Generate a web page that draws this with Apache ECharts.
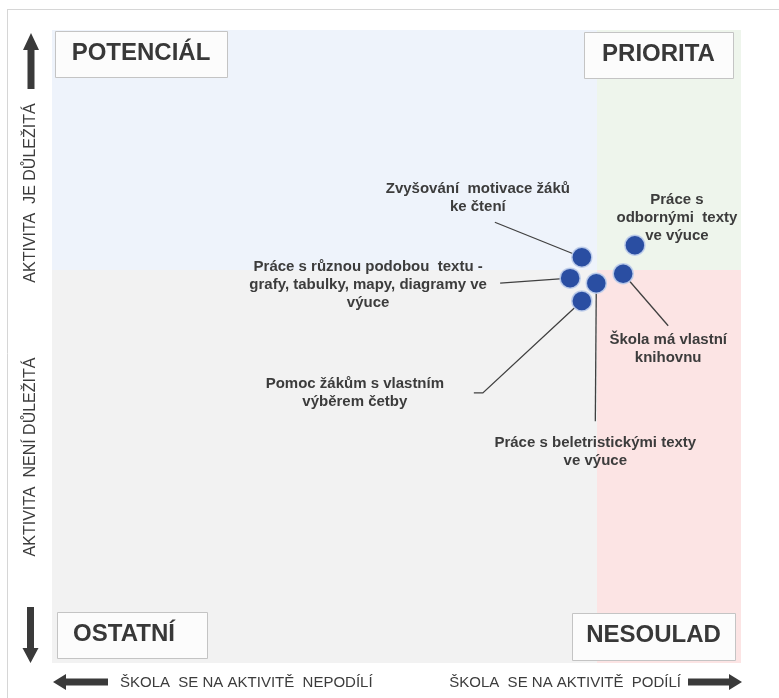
<!DOCTYPE html>
<html>
<head>
<meta charset="utf-8">
<title>Matice aktivit</title>
<script src="https://cdn.jsdelivr.net/npm/echarts@6/dist/echarts.min.js"></script>
<style>
  html, body { margin: 0; padding: 0; background: #fff; }
  #main { width: 779px; height: 698px; }
</style>
</head>
<body>
<div id="main"></div>
<script>
// aktivity a jejich poloha v matici (odhad z obrázku, 0-100)
var activities = [
    'Zvyšování  motivace žáků\nke čtení',
    'Práce s\nodbornými  texty\nve výuce',
    'Práce s různou podobou  textu -\ngrafy, tabulky, mapy, diagramy ve\nvýuce',
    'Práce s beletristickými texty\nve výuce',
    'Škola má vlastní\nknihovnu',
    'Pomoc žákům s vlastním\nvýběrem četby'
];
var participation = [76.9, 84.6, 75.2, 79.0, 82.9, 76.9];
var importance = [64.1, 66.0, 60.8, 60.0, 61.5, 57.2];

// hranice kvadrantů
var xSplit = 79.1;
var ySplit = 62.1;

var quadrantNames = ['POTENCIÁL', 'PRIORITA', 'OSTATNÍ', 'NESOULAD'];
var axisTexts = ['ŠKOLA  SE NA AKTIVITĚ  NEPODÍLÍ', 'ŠKOLA  SE NA AKTIVITĚ  PODÍLÍ',
                 'AKTIVITA  JE DŮLEŽITÁ', 'AKTIVITA  NENÍ DŮLEŽITÁ'];

// rozmístění popisků (posun v px od bodu) a vodicích čar
var labelOffsets = [[-104, -59], [42, -27], [-202, 7], [-1, 169], [45, 75], [-227, 92]];
var leaderPaths = [
    [[-87, -35], [0, 0]],
    [],
    [[-70, 5], [0, 0]],
    [[-1, 138], [0, 0]],
    [[45, 52], [0, 0]],
    [[-108, 92], [-99, 92], [0, 0]]
];

var FONT = "'Liberation Sans', Arial, sans-serif";
var TEXT_COLOR = '#3c3c3c';

function initOption() {
    var points = participation.map(function (x, i) {
        return [x, importance[i]];
    });

    // rámečky s názvy kvadrantů
    var boxes = [
        {x: 55, y: 31, w: 172, h: 46},
        {x: 584, y: 32, w: 149, h: 46},
        {x: 57, y: 612, w: 150, h: 46},
        {x: 572, y: 613, w: 163, h: 47}
    ];
    var graphics = [
        {type: 'line', z: 100, shape: {x1: 7, y1: 9.5, x2: 779, y2: 9.5}, style: {stroke: '#d6d6d6', lineWidth: 1}},
        {type: 'line', z: 100, shape: {x1: 7.5, y1: 9, x2: 7.5, y2: 698}, style: {stroke: '#d6d6d6', lineWidth: 1}}
    ];
    boxes.forEach(function (b, i) {
        graphics.push({
            type: 'rect', z: 100,
            shape: {x: b.x + 0.5, y: b.y + 0.5, width: b.w, height: b.h},
            style: {fill: '#fcfcfc', stroke: '#c4c4c4', lineWidth: 1}
        });
        graphics.push({
            type: 'text', z: 101,
            x: b.x + b.w / 2 - (i === 2 ? 8 : 0), y: b.y + b.h / 2 - 1,
            style: {text: quadrantNames[i], font: 'bold 24px ' + FONT, fill: '#383838',
                    align: 'center', verticalAlign: 'middle'}
        });
    });

    // šipky
    graphics.push(
        {type: 'polygon', z: 100, shape: {points: [[23, 50], [31, 33], [39, 50], [34.5, 50], [34.5, 89], [27.5, 89], [27.5, 50]]}, style: {fill: '#3a3a3a'}},
        {type: 'polygon', z: 100, shape: {points: [[27, 607], [34, 607], [34, 648], [38.5, 648], [30.5, 663], [22.5, 648], [27, 648]]}, style: {fill: '#3a3a3a'}},
        {type: 'polygon', z: 100, shape: {points: [[53, 682], [66, 674], [66, 678.5], [108, 678.5], [108, 685.5], [66, 685.5], [66, 690]]}, style: {fill: '#3a3a3a'}},
        {type: 'polygon', z: 100, shape: {points: [[742, 682], [729, 674], [729, 678.5], [688, 678.5], [688, 685.5], [729, 685.5], [729, 690]]}, style: {fill: '#3a3a3a'}}
    );

    // popisky os
    graphics.push(
        {type: 'text', z: 100, x: 120, y: 683,
         style: {text: axisTexts[0], font: '15px ' + FONT, fill: TEXT_COLOR, align: 'left', verticalAlign: 'middle'}},
        {type: 'text', z: 100, x: 681, y: 683,
         style: {text: axisTexts[1], font: '15px ' + FONT, fill: TEXT_COLOR, align: 'right', verticalAlign: 'middle'}},
        {type: 'text', z: 100, x: 31, y: 193, rotation: Math.PI / 2,
         style: {text: axisTexts[2], font: '16px ' + FONT, fill: TEXT_COLOR, align: 'center', verticalAlign: 'middle'}},
        {type: 'text', z: 100, x: 31, y: 457, rotation: Math.PI / 2,
         style: {text: axisTexts[3], font: '16px ' + FONT, fill: TEXT_COLOR, align: 'center', verticalAlign: 'middle'}}
    );

    var option = {
        backgroundColor: '#ffffff',
        animation: false,
        grid: {left: 52, top: 30, right: 38, bottom: 35},
        xAxis: {type: 'value', min: 0, max: 100, show: false},
        yAxis: {type: 'value', min: 0, max: 100, show: false},
        graphic: graphics,
        series: [
            {
                // popisky a vodicí čáry
                type: 'custom',
                z: 3,
                data: points,
                encode: {x: 0, y: 1},
                renderItem: function (params, api) {
                    var i = params.dataIndex;
                    var pt = api.coord([api.value(0), api.value(1)]);
                    var children = [];
                    var path = leaderPaths[i];
                    if (path.length) {
                        children.push({
                            type: 'polyline',
                            shape: {points: path.map(function (p) { return [pt[0] + p[0], pt[1] + p[1]]; })},
                            style: {stroke: '#404040', lineWidth: 1.3, fill: null}
                        });
                    }
                    children.push({
                        type: 'text',
                        x: pt[0] + labelOffsets[i][0],
                        y: pt[1] + labelOffsets[i][1],
                        style: {
                            text: activities[i],
                            font: 'bold 15px ' + FONT,
                            lineHeight: 18,
                            fill: TEXT_COLOR,
                            align: 'center',
                            verticalAlign: 'middle'
                        }
                    });
                    return {type: 'group', children: children};
                }
            },
            {
                type: 'scatter',
                z: 4,
                data: points,
                symbolSize: 20,
                itemStyle: {color: '#2A4EA2', opacity: 1, borderColor: 'rgba(190,205,235,0.9)', borderWidth: 1.5},
                markArea: {
                    silent: true,
                    data: [
                        [{xAxis: 0, yAxis: ySplit, itemStyle: {color: '#eef3fb'}}, {xAxis: xSplit, yAxis: 100}],
                        [{xAxis: xSplit, yAxis: ySplit, itemStyle: {color: '#eef5ec'}}, {xAxis: 100, yAxis: 100}],
                        [{xAxis: 0, yAxis: 0, itemStyle: {color: '#f2f2f2'}}, {xAxis: xSplit, yAxis: ySplit}],
                        [{xAxis: xSplit, yAxis: 0, itemStyle: {color: '#fce4e4'}}, {xAxis: 100, yAxis: ySplit}]
                    ]
                }
            }
        ]
    };
    return option;
}

var myChart = echarts.init(document.getElementById('main'));
myChart.setOption(initOption());
</script>
</body>
</html>
